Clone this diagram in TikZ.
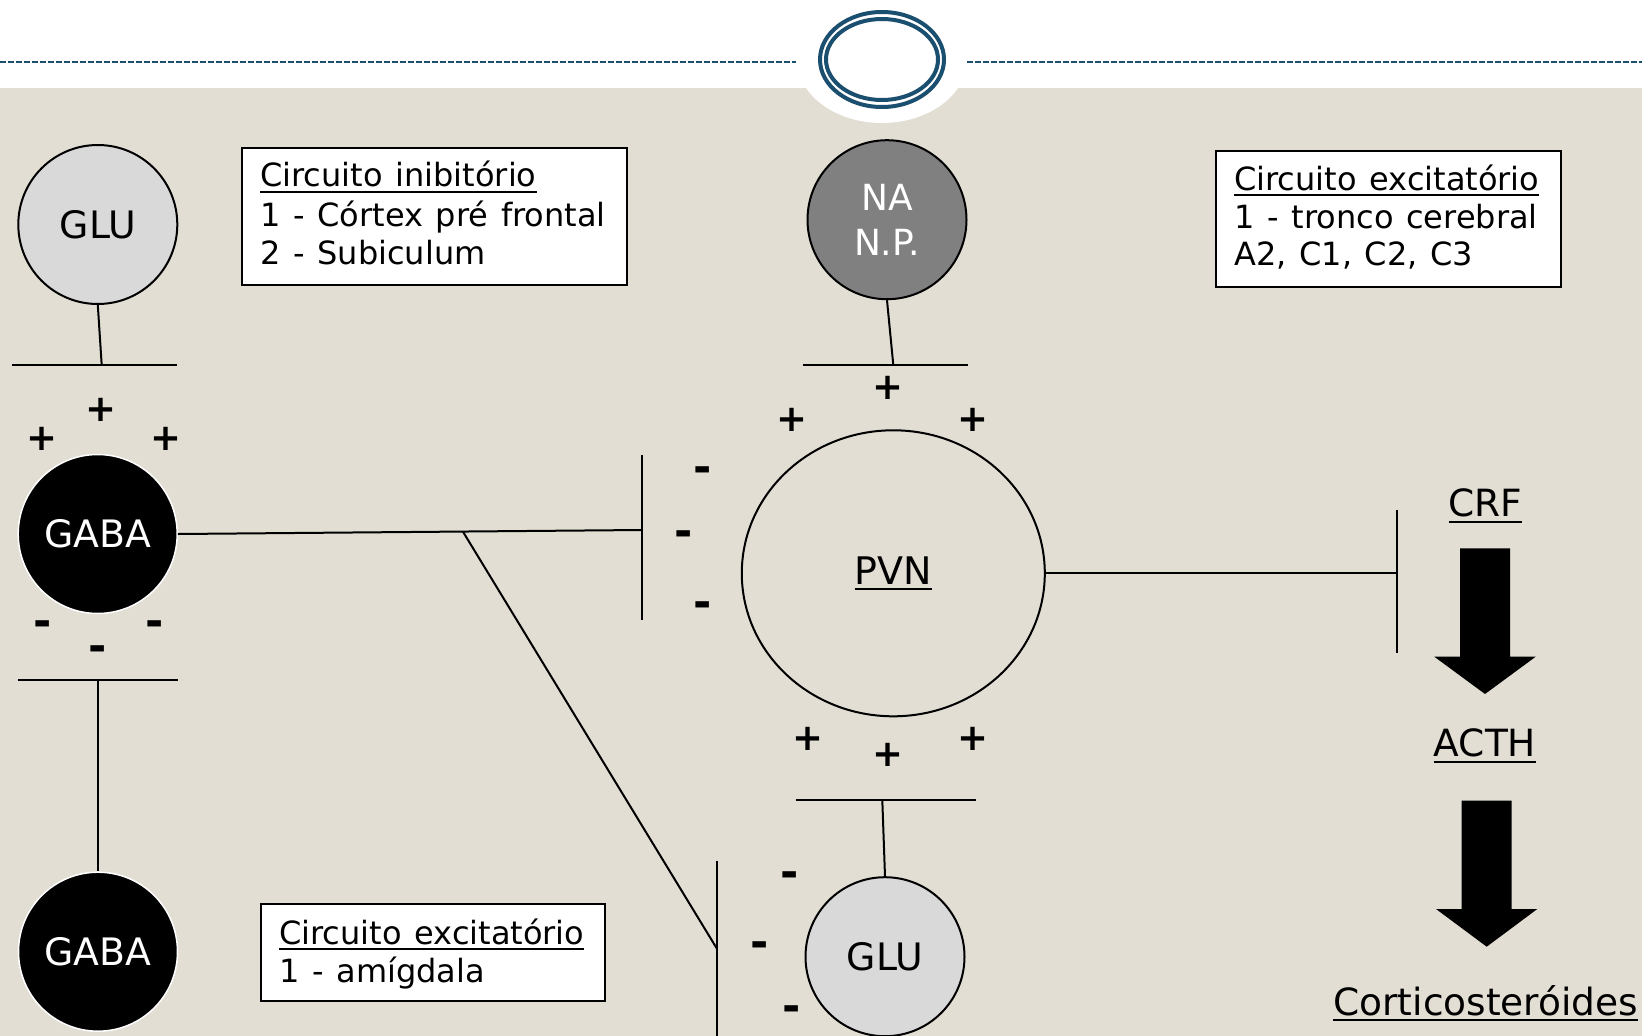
\documentclass[tikz,border=0pt]{standalone}
\usepackage{fontspec}
\setmainfont{DejaVu Sans}[WordSpace=1.25]
\usetikzlibrary{calc,shapes.geometric}

% underlined text: rule 2pt thick, 4pt to 6pt below the baseline
\newcommand{\undl}[1]{\leavevmode\setbox0=\hbox{#1}\rlap{\vrule height -4pt depth 6pt width \wd0}\box0}

\definecolor{paper}{HTML}{E3DED3}
\definecolor{ringblue}{HTML}{1B4F70}
\definecolor{glugray}{HTML}{D9D9D9}
\definecolor{nagray}{HTML}{808080}

\tikzset{
  cell/.style={circle, draw=black, line width=2pt, minimum size=159pt, inner sep=0pt,
               font=\fontsize{37.8}{43}\selectfont},
  glucell/.style={cell, fill=glugray},
  gabacell/.style={cell, fill=black, draw=white, line width=1.5pt, text=white},
  nacell/.style={cell, fill=nagray, text=white, align=center, font=\fontsize{36}{45}\selectfont},
  syn/.style={line width=2pt, line cap=butt},
  sign/.style={inner sep=0pt, font=\fontsize{37}{37}\bfseries\selectfont},
  minus/.style={inner sep=0pt, font=\fontsize{44}{44}\bfseries\selectfont},
  infobox/.style={draw=black, line width=2pt, fill=white, inner sep=0pt, anchor=north west},
  boxline/.style={inner sep=0pt, anchor=base west, font=\fontsize{32}{38}\selectfont},
  hormone/.style={inner sep=0pt, anchor=base, font=\fontsize{37.5}{40}\selectfont},
  bigarrow/.style={fill=black},
}

\begin{document}
\begin{tikzpicture}[x=1pt, y=-1pt]
\useasboundingbox (0,0) rectangle (1642,1036);

% page background, header band and emblem
\fill[white] (0,0) rectangle (1642,1036);
\fill[paper] (0,88) rectangle (1642,1036);
\fill[white] (882,59.5) ellipse [x radius=85, y radius=63.5];
\draw[ringblue, line width=1.5pt, dash pattern=on 5.5pt off 2.5pt] (0,62) -- (796,62);
\draw[ringblue, line width=1.5pt, dash pattern=on 5.5pt off 2.5pt] (967,62) -- (1642,62);
\draw[ringblue, line width=4pt] (882,59.5) ellipse [x radius=62, y radius=47.5];
\draw[ringblue, line width=4pt] (882,59.5) ellipse [x radius=56, y radius=40.5];

% cells
\node[glucell]  (gluTop) at (97.8,224.5) {GLU};
\node[gabacell] (gabaMid) at (97.7,534) {GABA};
\node[gabacell] (gabaLow) at (98,951.7) {GABA};
\node[nacell]   (na) at (887,219.7) {NA\\N.P.};
\node[glucell]  (gluLow) at (885,956.7) {GLU};
\node[ellipse, draw=black, line width=2pt, minimum width=303pt, minimum height=286pt,
      inner sep=0pt, font=\fontsize{38}{40}\selectfont] (pvn) at (893.3,573.3) {\undl{PVN}};

% synaptic bars and terminal points
\coordinate (gluTopBarL) at (12.3,365);
\coordinate (gluTopBarR) at (176.7,365);
\coordinate (gluTopEnd)  at (101.7,365);
\coordinate (gabaBarL) at (18,680);
\coordinate (gabaBarR) at (178,680);
\coordinate (gabaEnd)  at (98,680);
\coordinate (naBarL) at (803.3,365);
\coordinate (naBarR) at (968.3,365);
\coordinate (naEnd)  at (893.3,365);
\coordinate (gluLowBarL) at (795.7,800);
\coordinate (gluLowBarR) at (975.7,800);
\coordinate (gluLowEnd)  at (882.3,800);
\coordinate (pvnBarT) at (642,455);
\coordinate (pvnBarB) at (642,620);
\coordinate (pvnEnd)  at (642,530);
\coordinate (lowBarT) at (716.7,860.7);
\coordinate (lowBarB) at (716.7,1040);
\coordinate (lowEnd)  at (716.7,948.3);
\coordinate (crfBarT) at (1397.3,510);
\coordinate (crfBarB) at (1397.3,653.3);
\coordinate (crfEnd)  at (1397.3,573.3);

\draw[syn] (gluTopBarL) -- (gluTopBarR);
\draw[syn] (gluTop.south) -- (gluTopEnd);
\draw[syn] (gabaBarL) -- (gabaBarR);
\draw[syn] (gabaEnd) -- (gabaLow.north);
\draw[syn] (naBarL) -- (naBarR);
\draw[syn] (na.south) -- (naEnd);
\draw[syn] (gluLowBarL) -- (gluLowBarR);
\draw[syn] (gluLowEnd) -- (gluLow.north);
\draw[syn] (pvnBarT) -- (pvnBarB);
\draw[syn] (gabaMid.east) -- (pvnEnd) coordinate[pos=0.614] (fork);
\draw[syn] (fork) -- (lowEnd);
\draw[syn] (lowBarT) -- (lowBarB);
\draw[syn] (pvn.east) -- (crfEnd);
\draw[syn] (crfBarT) -- (crfBarB);

% excitatory and inhibitory signs
\node[sign] (pA1) at (101,410) {+};
\node[sign] (pA2) at (42,439) {+};
\node[sign] (pA3) at (166,439) {+};
\node[minus] (mA1) at (42.7,629) {-};
\node[minus] (mA2) at (154.7,629) {-};
\node[minus] (mA3) at (97.7,654) {-};
\node[sign] (pB1) at (888.3,388.3) {+};
\node[sign] (pB2) at (791.7,420) {+};
\node[sign] (pB3) at (972.7,420) {+};
\node[minus] (mB1) at (702.7,475) {-};
\node[minus] (mB2) at (683.3,538.3) {-};
\node[minus] (mB3) at (702.7,609.3) {-};
\node[sign] (pC1) at (808.3,739) {+};
\node[sign] (pC2) at (888.3,755) {+};
\node[sign] (pC3) at (972.7,739) {+};
\node[minus] (mC1) at (790,879.3) {-};
\node[minus] (mC2) at (760,950) {-};
\node[minus] (mC3) at (791.7,1013.3) {-};

% legend boxes
\node[infobox, minimum width=385pt, minimum height=137pt] (inib) at (241,147) {};
\node[boxline] (inib1) at (260,186.7) {\undl{Circuito inibitório}};
\node[boxline] (inib2) at (260,226) {1 - Córtex pré frontal};
\node[boxline] (inib3) at (260,264) {2 - Subiculum};

\node[infobox, minimum width=345pt, minimum height=136pt] (excA) at (1215,150) {};
\node[boxline] (excA1) at (1234,190) {\undl{Circuito excitatório}};
\node[boxline] (excA2) at (1234,228) {1 - tronco cerebral};
\node[boxline] (excA3) at (1234,265) {A2, C1, C2, C3};

\node[infobox, minimum width=344pt, minimum height=97.3pt] (excB) at (260,902.7) {};
\node[boxline] (excB1) at (279,944) {\undl{Circuito excitatório}};
\node[boxline] (excB2) at (279,982) {1 - amígdala};

% hormonal cascade
\node[hormone] (crf)  at (1485.4,516.7) {\undl{CRF}};
\node[hormone] (acth) at (1485,756.7) {\undl{ACTH}};
\node[hormone] (cort) at (1485.8,1015) {\undl{Corticosteróides}};
\fill[bigarrow] (1460,548.3) -- (1510,548.3) -- (1510,656.7) -- (1535.7,656.7)
  -- (1485,694) -- (1434.3,656.7) -- (1460,656.7) -- cycle;
\fill[bigarrow] (1461.7,800.7) -- (1511.7,800.7) -- (1511.7,909) -- (1537.3,909)
  -- (1486.7,946.7) -- (1436,909) -- (1461.7,909) -- cycle;
\end{tikzpicture}
\end{document}
